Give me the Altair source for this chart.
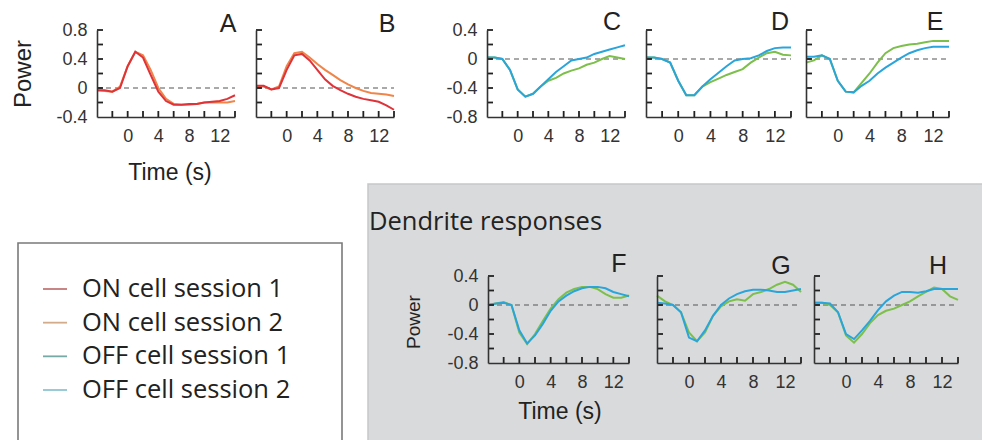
import altair as alt
import pandas as pd

# ---------------- data ----------------
time = list(range(-4, 15))

series_names = ["ON cell session 1", "ON cell session 2", "OFF cell session 1", "OFF cell session 2"]

A_on1 = [-0.03, -0.03, -0.05, 0.0, 0.30, 0.50, 0.42, 0.18, -0.05, -0.18, -0.23, -0.23, -0.22, -0.22, -0.20, -0.19, -0.18, -0.15, -0.10]
A_on2 = [-0.03, -0.04, -0.05, 0.02, 0.30, 0.50, 0.45, 0.25, 0.00, -0.15, -0.22, -0.23, -0.23, -0.22, -0.20, -0.20, -0.20, -0.20, -0.18]
B_on1 = [0.03, 0.03, -0.02, 0.00, 0.25, 0.45, 0.47, 0.38, 0.25, 0.12, 0.03, -0.03, -0.08, -0.12, -0.15, -0.17, -0.19, -0.24, -0.30]
B_on2 = [0.02, 0.02, -0.02, 0.02, 0.30, 0.48, 0.50, 0.42, 0.33, 0.25, 0.18, 0.11, 0.05, 0.00, -0.04, -0.07, -0.08, -0.09, -0.11]
C_off1 = [0.02, 0.02, 0.00, -0.15, -0.42, -0.52, -0.48, -0.38, -0.30, -0.26, -0.20, -0.16, -0.13, -0.08, -0.05, 0.00, 0.04, 0.02, 0.00]
C_off2 = [0.02, 0.02, 0.00, -0.15, -0.42, -0.52, -0.48, -0.38, -0.28, -0.18, -0.10, -0.02, 0.00, 0.02, 0.07, 0.10, 0.13, 0.16, 0.19]
D_off1 = [0.02, 0.02, 0.00, -0.05, -0.30, -0.50, -0.50, -0.38, -0.32, -0.27, -0.22, -0.18, -0.14, -0.05, 0.02, 0.08, 0.10, 0.06, 0.05]
D_off2 = [0.02, 0.02, 0.00, -0.05, -0.30, -0.50, -0.50, -0.38, -0.28, -0.19, -0.10, -0.02, 0.00, 0.01, 0.05, 0.11, 0.15, 0.16, 0.16]
E_off1 = [-0.05, -0.02, 0.05, 0.00, -0.30, -0.45, -0.46, -0.33, -0.20, -0.05, 0.08, 0.15, 0.18, 0.20, 0.21, 0.23, 0.25, 0.25, 0.25]
E_off2 = [0.03, 0.03, 0.05, 0.00, -0.30, -0.45, -0.46, -0.37, -0.30, -0.20, -0.12, -0.05, 0.02, 0.08, 0.12, 0.15, 0.17, 0.17, 0.17]
F_off1 = [0.00, 0.02, 0.04, 0.00, -0.38, -0.54, -0.40, -0.22, -0.05, 0.08, 0.17, 0.22, 0.25, 0.25, 0.22, 0.15, 0.10, 0.10, 0.13]
F_off2 = [0.00, 0.02, 0.03, 0.00, -0.35, -0.53, -0.42, -0.26, -0.08, 0.05, 0.13, 0.19, 0.23, 0.25, 0.25, 0.23, 0.18, 0.15, 0.12]
G_off1 = [0.13, 0.05, 0.00, -0.10, -0.38, -0.50, -0.38, -0.15, -0.02, 0.05, 0.08, 0.06, 0.15, 0.18, 0.22, 0.28, 0.32, 0.28, 0.18]
G_off2 = [0.03, 0.02, 0.00, -0.10, -0.45, -0.50, -0.35, -0.15, 0.00, 0.09, 0.15, 0.19, 0.21, 0.21, 0.20, 0.18, 0.18, 0.20, 0.22]
H_off1 = [0.03, 0.03, 0.00, -0.10, -0.42, -0.52, -0.40, -0.25, -0.14, -0.08, -0.05, 0.00, 0.05, 0.12, 0.18, 0.24, 0.22, 0.12, 0.07]
H_off2 = [0.03, 0.03, 0.02, -0.10, -0.40, -0.47, -0.35, -0.22, -0.07, 0.05, 0.13, 0.18, 0.18, 0.17, 0.19, 0.22, 0.22, 0.22, 0.22]

panel_series = {
    "A": {"ON cell session 2": A_on2, "ON cell session 1": A_on1},
    "B": {"ON cell session 2": B_on2, "ON cell session 1": B_on1},
    "C": {"OFF cell session 1": C_off1, "OFF cell session 2": C_off2},
    "D": {"OFF cell session 1": D_off1, "OFF cell session 2": D_off2},
    "E": {"OFF cell session 1": E_off1, "OFF cell session 2": E_off2},
    "F": {"OFF cell session 1": F_off1, "OFF cell session 2": F_off2},
    "G": {"OFF cell session 1": G_off1, "OFF cell session 2": G_off2},
    "H": {"OFF cell session 1": H_off1, "OFF cell session 2": H_off2},
}

x_domain = [-4, 14]
x_labels = [0, 4, 8, 12]
x_ticks = [-2, 0, 2, 4, 6, 8, 10, 12, 14]
dom_on = [-0.4, 0.8]
dom_off = [-0.8, 0.4]
ylab_on = [-0.4, 0.0, 0.4, 0.8]
ylab_off = [-0.8, -0.4, 0.0, 0.4]
ytick_on = [-0.2, 0.0, 0.2, 0.4, 0.6, 0.8]
ytick_off = [-0.6, -0.4, -0.2, 0.0, 0.2, 0.4]

# ---------------- styling / layout ----------------
W, H = 982, 440
line_colors = ["#de3339", "#ef8549", "#7dbf4b", "#2aa5dc"]
legend_colors = ["#c27878", "#d3aa8a", "#76aaa6", "#8ec4d2"]
AXC = "#333333"
FONT = "Liberation Sans"
FONT2 = "Open Sans"

TOP = dict(yb=117, yt=30)
BOT = dict(yb=363, yt=276)
layout = {
    "A": dict(x0=97, x1=235, dom=dom_on, labs=ylab_on, ticks=ytick_on, show=True, **TOP),
    "B": dict(x0=256, x1=394, dom=dom_on, labs=ylab_on, ticks=ytick_on, show=False, **TOP),
    "C": dict(x0=487, x1=625, dom=dom_off, labs=ylab_off, ticks=ytick_off, show=True, **TOP),
    "D": dict(x0=646, x1=791, dom=dom_off, labs=ylab_off, ticks=ytick_off, show=False, **TOP),
    "E": dict(x0=806, x1=949, dom=dom_off, labs=ylab_off, ticks=ytick_off, show=False, **TOP),
    "F": dict(x0=488, x1=629, dom=dom_off, labs=ylab_off, ticks=ytick_off, show=True, **BOT),
    "G": dict(x0=657, x1=801, dom=dom_off, labs=ylab_off, ticks=ytick_off, show=False, **BOT),
    "H": dict(x0=814, x1=958, dom=dom_off, labs=ylab_off, ticks=ytick_off, show=False, **BOT),
}
letter_pos = {"A": (228, 24), "B": (387, 24), "C": (612, 22), "D": (780, 22), "E": (935, 22),
              "F": (619, 264), "G": (781, 266), "H": (938, 266)}

label_expr = "datum.value == 0 ? '0' : (datum.value < 0 ? '-' + format(-datum.value, '.1f') : format(datum.value, '.1f'))"

dummy = pd.DataFrame({"d": [0]})


def panel_layer(name):
    L = layout[name]
    rows = []
    for s, vals in panel_series[name].items():
        for t, v in zip(time, vals):
            rows.append({"t": t, "v": v, "series": s})
    df = pd.DataFrame(rows)

    xs = alt.Scale(domain=x_domain, range=[L["x0"], L["x1"]], nice=False, zero=False)
    ys = alt.Scale(domain=L["dom"], range=[L["yb"], L["yt"]], nice=False, zero=False)

    xaxis = alt.Axis(orient="bottom", offset=L["yb"] - H, values=x_labels, ticks=False, grid=False,
                     title=None, domainColor=AXC, domainWidth=1.6, labelFontSize=18, labelFont=FONT,
                     labelColor=AXC, labelPadding=10, labelFlush=False, format="d", zindex=1)
    yaxis = alt.Axis(orient="left", offset=-L["x0"], values=L["labs"], ticks=False, grid=False,
                     title=None, labels=L["show"], domainColor=AXC, domainWidth=1.6, labelFontSize=18,
                     labelFont=FONT, labelColor=AXC, labelPadding=10, labelExpr=label_expr, zindex=1)
    lines = alt.Chart(df).mark_line(strokeWidth=2).encode(
        x=alt.X("t:Q", scale=xs, axis=xaxis),
        y=alt.Y("v:Q", scale=ys, axis=yaxis),
        color=alt.Color("series:N", scale=alt.Scale(domain=series_names, range=line_colors), legend=None),
        detail="series:N",
    )
    zero_df = pd.DataFrame({"zt": x_domain, "zv": [0.0, 0.0]})
    zero = alt.Chart(zero_df).mark_line(strokeDash=[5, 4], strokeWidth=1.2, color="#555555").encode(
        x=alt.X("zt:Q"),
        y=alt.Y("zv:Q"),
    )
    xt_df = pd.DataFrame({"xt": x_ticks, "xv": [L["dom"][0]] * len(x_ticks)})
    xt = alt.Chart(xt_df).mark_tick(orient="vertical", size=6, thickness=1.8, color="#222222", opacity=1,
                                    yOffset=-3).encode(
        x=alt.X("xt:Q"),
        y=alt.Y("xv:Q"),
    )
    yt_df = pd.DataFrame({"yt": [x_domain[0]] * len(L["ticks"]), "yv": L["ticks"]})
    yt = alt.Chart(yt_df).mark_tick(orient="horizontal", size=6, thickness=1.8, color="#222222", opacity=1,
                                    xOffset=3).encode(
        x=alt.X("yt:Q"),
        y=alt.Y("yv:Q"),
    )
    return alt.layer(zero, lines, xt, yt)


def text_at(txt, x, y, size, font=FONT, angle=0, align="center"):
    return alt.Chart(dummy).mark_text(text=txt, fontSize=size, font=font, color="#222222",
                                      align=align, baseline="middle", angle=angle).encode(
        x=alt.value(x), y=alt.value(y))


gray_box = alt.Chart(dummy).mark_rect(fill="#d9dadc", stroke="#c6c7c9", strokeWidth=1.5).encode(
    x=alt.value(368), x2=alt.value(W + 5), y=alt.value(184), y2=alt.value(H + 5))
legend_box = alt.Chart(dummy).mark_rect(fill="#ffffff", stroke="#7a7a7a", strokeWidth=1.6).encode(
    x=alt.value(18), x2=alt.value(342), y=alt.value(243), y2=alt.value(H + 5))

leg_df = pd.DataFrame({"label": series_names})
leg_y = alt.Y("label:N", scale=alt.Scale(type="point", domain=series_names, range=[289, 390], padding=0),
              axis=None)
leg_lines = alt.Chart(leg_df).mark_rule(strokeWidth=1.8).encode(
    x=alt.value(43), x2=alt.value(67), y=leg_y,
    color=alt.Color("label:N", scale=alt.Scale(domain=series_names, range=legend_colors), legend=None))
leg_text = alt.Chart(leg_df).mark_text(fontSize=25.5, font=FONT2, color="#222222", align="left",
                                       baseline="middle").encode(
    x=alt.value(82), y=leg_y, text="label:N")

layers = [gray_box, legend_box, alt.layer(leg_lines, leg_text)]
for p in "ABCDEFGH":
    layers.append(panel_layer(p))
for p in "ABCDEFGH":
    lx, ly = letter_pos[p]
    layers.append(text_at(p, lx, ly, 25))
layers += [
    text_at("Power", 24, 74, 24, angle=270),
    text_at("Time (s)", 170, 173, 23),
    text_at("Power", 414, 322, 19, angle=270),
    text_at("Time (s)", 560, 412, 23),
    text_at("Dendrite responses", 369, 222, 25.5, font=FONT2, align="left"),
]

chart = alt.layer(*layers).resolve_scale(
    x="independent", y="independent", color="independent"
).properties(
    width=W, height=H, autosize=alt.AutoSizeParams(type="none"), padding=0, background="white"
).configure_view(stroke=None)

chart.save("out.html", embed_options={"renderer": "svg", "actions": False})
